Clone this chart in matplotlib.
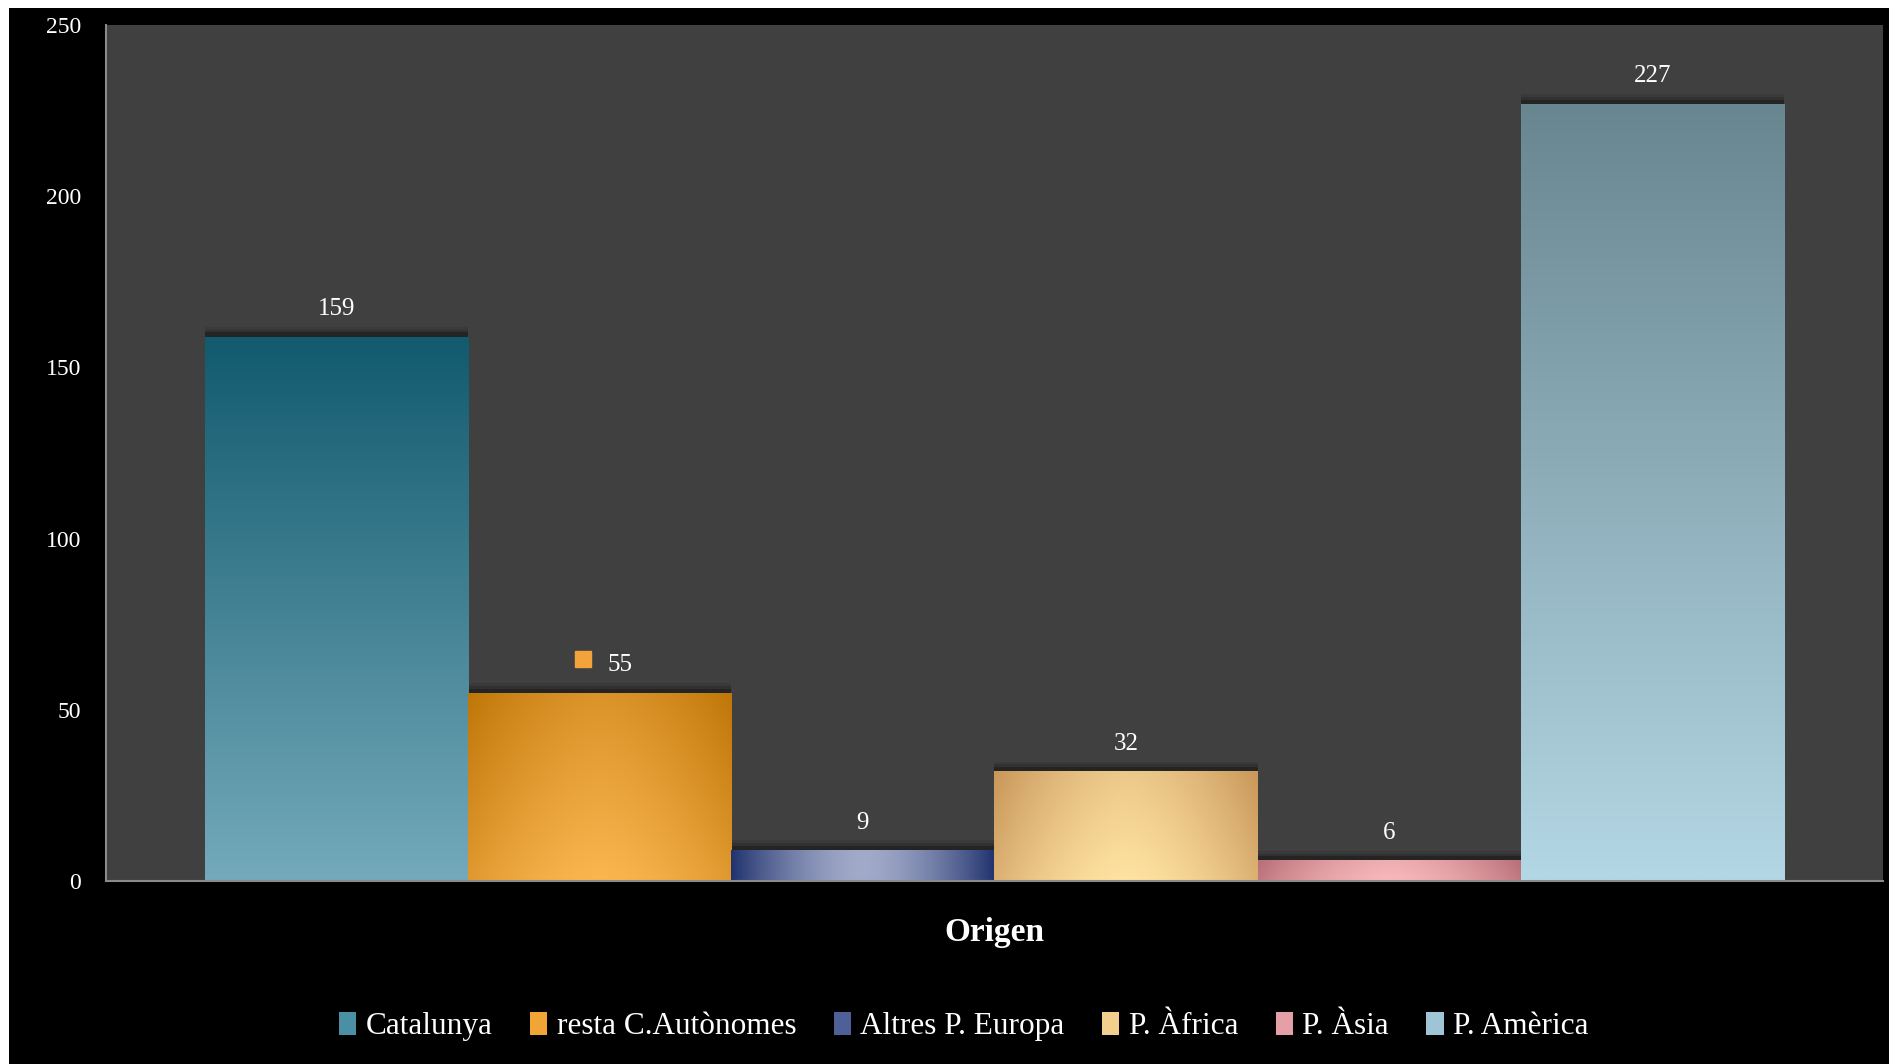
import numpy as np
import matplotlib
matplotlib.use("Agg")
import matplotlib.pyplot as plt
import matplotlib.patheffects as pe
from matplotlib.patches import Rectangle, Patch
from matplotlib.colors import to_rgb

plt.rcParams['font.family'] = ['Liberation Serif', 'DejaVu Serif']

categories = ['Catalunya', 'resta C.Autònomes', 'Altres P. Europa',
              'P. Àfrica', 'P. Àsia', 'P. Amèrica']
values = [159, 55, 9, 32, 6, 227]

# gradient: dark colour, light colour, weight of vertical vs horizontal shading
dark = ['#125a6e', '#bf7608', '#22346f', '#c9975a', '#b86f77', '#688690']
light = ['#74aabb', '#fbb650', '#a2aac9', '#ffe3a2', '#f8b8bc', '#b4d7e5']
vert_w = [1.0, 0.55, 0.0, 0.35, 0.15, 1.0]
legend_col = ['#4a8fa3', '#f0a534', '#4f5f98', '#f2cf8c', '#e4a0a6', '#9fc4d3']

fig = plt.figure(figsize=(18.9, 10.64), dpi=100, facecolor='white')
fig.patches.append(Rectangle((9 / 1890, 0), 1, 1 - 8 / 1064, transform=fig.transFigure,
                             facecolor='black', edgecolor='none', zorder=-10))
ax = fig.add_axes([106 / 1890, 1 - 881 / 1064, (1883 - 106) / 1890, (881 - 25) / 1064])
ax.set_facecolor('#404040')

shadow = [pe.SimplePatchShadow(offset=(0, 7), shadow_rgbFace='black', alpha=0.08),
          pe.SimplePatchShadow(offset=(0, 5), shadow_rgbFace='black', alpha=0.15),
          pe.SimplePatchShadow(offset=(0, 3), shadow_rgbFace='black', alpha=0.25),
          pe.Normal()]
x = np.arange(len(values))
bars = ax.bar(x, values, width=1.0, color=legend_col, edgecolor='none', zorder=2,
              path_effects=shadow)

ny, nx = 200, 120
for b, d, l, w in zip(bars, dark, light, vert_w):
    v = np.linspace(0, 1, ny)[:, None] * np.ones((1, nx))
    u = np.linspace(0, 1, nx)[None, :] * np.ones((ny, 1))
    h = 1 - np.abs(2 * u - 1) ** 1.6
    t = np.clip(w * v + (1 - w) * h, 0, 1)
    img = np.array(to_rgb(d))[None, None, :] * (1 - t[..., None]) + \
        np.array(to_rgb(l))[None, None, :] * t[..., None]
    x0, hgt = b.get_x(), b.get_height()
    im = ax.imshow(img, extent=(x0, x0 + b.get_width(), 0, hgt), origin='upper',
                   aspect='auto', zorder=3, interpolation='bilinear')
    im.set_clip_path(b)

for i, (xi, val) in enumerate(zip(x, values)):
    if i == 1:
        ax.annotate(str(val), (xi, val), xytext=(15, 12), textcoords='offset points',
                    ha='center', va='bottom', color='white', fontsize=18, zorder=5)
        ax.plot([xi], [val], marker='s', markersize=11, color='#f2a33a', linestyle='none',
                zorder=5, transform=ax.transData + matplotlib.transforms.ScaledTranslation(
                    -12 / 72, 24 / 72, fig.dpi_scale_trans), clip_on=False)
    else:
        ax.annotate(str(val), (xi, val), xytext=(0, 12), textcoords='offset points',
                    ha='center', va='bottom', color='white', fontsize=18, zorder=5)

ax.set_xlim(-0.5 - 0.375, len(values) - 0.5 + 0.375)
ax.set_ylim(0, 250)
ax.set_yticks(np.arange(0, 251, 50))
ax.set_xticks([])
ax.tick_params(axis='y', length=0, pad=18, colors='white', labelsize=17)
for s in ['top', 'right']:
    ax.spines[s].set_visible(False)
for s in ['left', 'bottom']:
    ax.spines[s].set_color('#8a8a8a')
    ax.spines[s].set_linewidth(1.5)
    ax.spines[s].set_zorder(4)

ax.set_xlabel('Origen', color='white', fontsize=24, fontweight='bold', labelpad=26)

handles = [Patch(facecolor=c, edgecolor='none') for c in legend_col]
fig.legend(handles, categories, loc='center', bbox_to_anchor=(0.51, 0.035), ncol=6,
           frameon=False, fontsize=22.5, labelcolor='white', handlelength=0.55,
           handleheight=0.75, handletextpad=0.3, columnspacing=1.2)

fig.savefig('out.png', dpi=100, facecolor=fig.get_facecolor())
